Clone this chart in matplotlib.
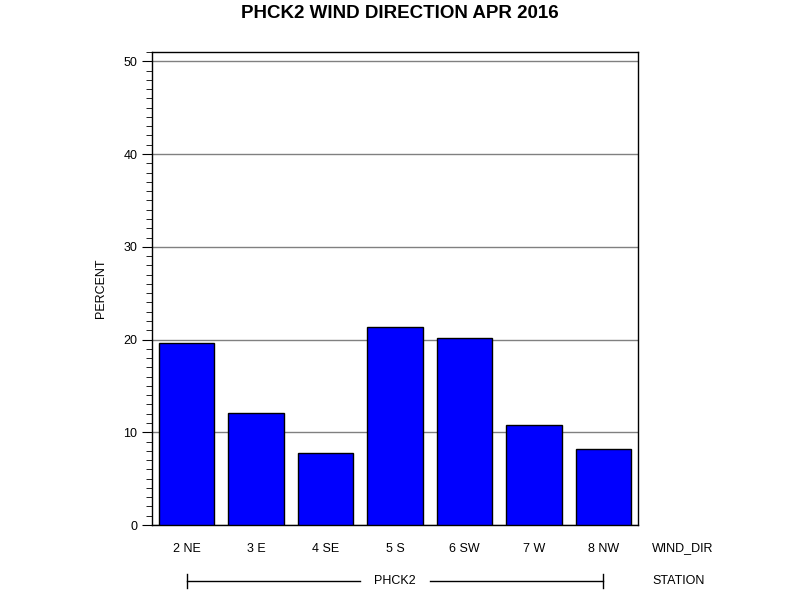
import matplotlib
matplotlib.use("Agg")
from matplotlib import pyplot as plt
from matplotlib.ticker import MultipleLocator

dirs = ["2 NE", "3 E", "4 SE", "5 S", "6 SW", "7 W", "8 NW"]
percent = [19.58, 12.04, 7.73, 21.34, 20.12, 10.74, 8.16]
station = "PHCK2"

plt.rcParams['font.family'] = ['Liberation Sans', 'DejaVu Sans']

fig = plt.figure(figsize=(8, 6), dpi=100)
ax = fig.add_axes([0.19, 0.125, 0.6075, 0.7883])

x = range(len(dirs))
ax.bar(x, percent, width=0.8, color='#0000ff', edgecolor='black', linewidth=1, zorder=3)

ymax = 51.0
ax.set_xlim(-0.5, len(dirs) - 0.5)
ax.set_ylim(0, ymax)
ax.yaxis.set_major_locator(MultipleLocator(10))
ax.yaxis.set_minor_locator(MultipleLocator(1))
ax.grid(axis='y', which='major', color='#808080', linewidth=1, zorder=1)
ax.tick_params(axis='y', which='major', length=7, labelsize=9, direction='out')
ax.tick_params(axis='y', which='minor', length=4, direction='out')
ax.set_xticks(list(x))
ax.set_xticklabels(dirs, fontsize=9)
ax.tick_params(axis='x', length=0, pad=13)
for s in ax.spines.values():
    s.set_linewidth(1)

ax.set_ylabel("PERCENT", fontsize=9, labelpad=12)
fig.text(0.5, 0.992, "PHCK2 WIND DIRECTION APR 2016", ha='center', va='top',
         fontsize=13.5, fontweight='bold')

# second-level axis labels
fig.text(683 / 800, 1 - 548 / 600, "WIND_DIR", ha='center', va='center', fontsize=9)
fig.text(679 / 800, 1 - 581 / 600, "STATION", ha='center', va='center', fontsize=9)

# station bracket under categories
y_br = -(581 - 525) / (473 / ymax)
ax.text(3, y_br, station, ha='center', va='center', fontsize=9)
ax.plot([0, 2.49], [y_br, y_br], color='black', lw=1, clip_on=False)
ax.plot([3.51, 6], [y_br, y_br], color='black', lw=1, clip_on=False)
ax.plot([0, 0], [y_br - 0.75, y_br + 0.75], color='black', lw=1, clip_on=False)
ax.plot([6, 6], [y_br - 0.75, y_br + 0.75], color='black', lw=1, clip_on=False)
ax.set_ylim(0, ymax)

fig.savefig("out.png", dpi=100)
